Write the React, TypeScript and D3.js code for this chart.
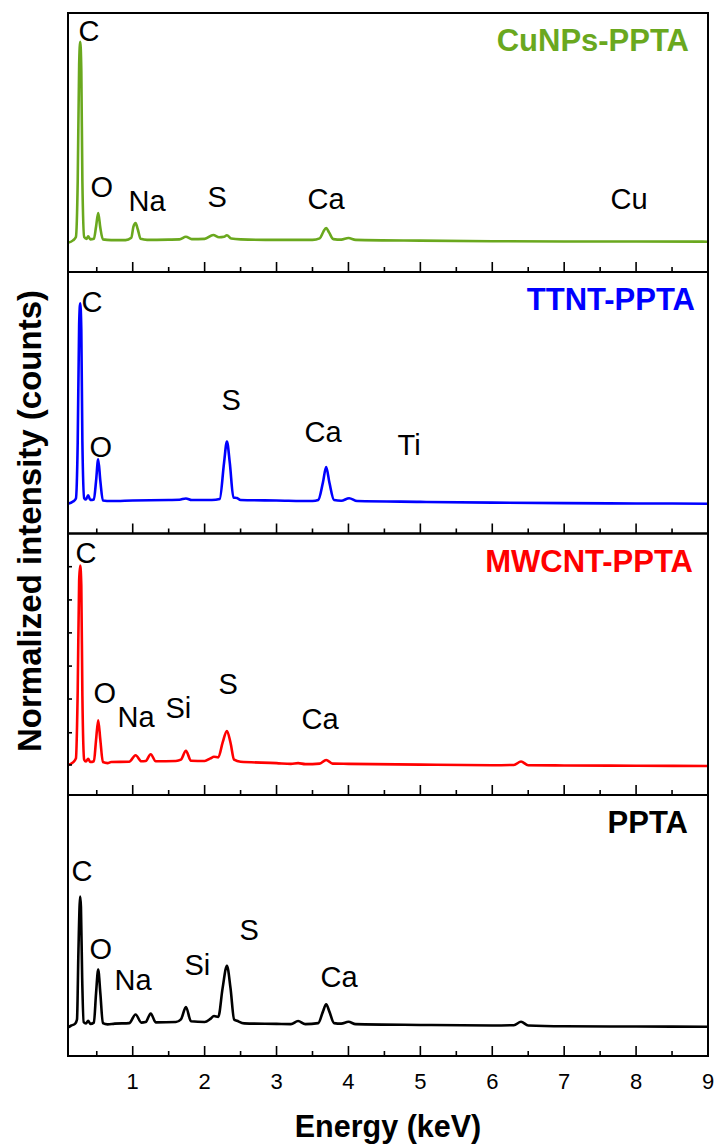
import React from "react";
import * as d3 from "d3";

type Pt = [number, number];

// Spectra: [energy keV, normalized intensity (0-100 within each panel)]
const cunpsSpectrum: Pt[] = [
  [0.10, 11.3], [0.17, 12.2], [0.21, 13.5], [0.235, 35], [0.255, 80], [0.27, 88.9], [0.285, 78], [0.30, 35],
  [0.325, 13.5], [0.36, 12.8], [0.38, 13.8], [0.41, 12.6], [0.46, 12.8], [0.49, 17.5], [0.52, 22.8], [0.55, 17],
  [0.585, 12.6], [0.7, 12.3], [0.9, 12.3], [0.98, 13.2], [1.01, 17.5], [1.04, 18.9], [1.07, 16.5], [1.11, 12.8],
  [1.2, 12.4], [1.5, 12.5], [1.65, 12.6], [1.74, 13.6], [1.82, 12.7], [2.0, 12.8], [2.12, 14.3], [2.2, 13.4],
  [2.27, 13.6], [2.31, 14.2], [2.37, 12.9], [2.5, 12.6], [3.0, 12.4], [3.5, 12.4], [3.6, 13.0], [3.65, 15.5],
  [3.69, 17.0], [3.73, 15.3], [3.79, 12.7], [3.9, 12.5], [4.0, 13.1], [4.1, 12.4], [5.0, 12.1], [6.0, 11.9],
  [7.0, 11.8], [8.0, 11.8], [9.0, 11.7],
];

const ttntSpectrum: Pt[] = [
  [0.10, 11.4], [0.17, 12.2], [0.21, 13.4], [0.235, 35], [0.255, 80], [0.27, 88.0], [0.285, 78], [0.30, 35],
  [0.325, 13.5], [0.35, 13.0], [0.38, 14.6], [0.41, 12.8], [0.46, 13.0], [0.49, 20], [0.52, 28.4], [0.55, 20],
  [0.585, 12.6], [0.7, 12.4], [1.0, 12.6], [1.5, 12.8], [1.65, 12.9], [1.74, 13.4], [1.82, 12.8], [2.1, 12.8],
  [2.21, 13.2], [2.27, 27], [2.31, 35.2], [2.35, 27], [2.40, 13.8], [2.45, 13.6], [2.5, 12.8], [3.0, 12.6],
  [3.5, 12.4], [3.58, 12.8], [3.645, 19.5], [3.69, 25.4], [3.735, 19.5], [3.80, 12.8], [3.9, 12.5], [4.01, 13.5],
  [4.12, 12.4], [5.0, 12.1], [6.0, 11.8], [7.0, 11.6], [8.0, 11.5], [9.0, 11.4],
];

const mwcntSpectrum: Pt[] = [
  [0.10, 11.5], [0.17, 12.5], [0.21, 14], [0.235, 40], [0.255, 82], [0.27, 87.7], [0.285, 80], [0.30, 38],
  [0.325, 13.5], [0.35, 12.8], [0.38, 13.8], [0.41, 12.6], [0.46, 12.9], [0.49, 21], [0.52, 28.6], [0.55, 21],
  [0.585, 12.6], [0.65, 12.2], [0.7, 12.6], [0.95, 12.7], [1.04, 15.2], [1.12, 12.9], [1.18, 13.0], [1.25, 15.6],
  [1.32, 12.9], [1.6, 13.0], [1.67, 13.5], [1.74, 16.9], [1.81, 13.1], [2.0, 13.0], [2.08, 14.0], [2.13, 14.6],
  [2.19, 14.4], [2.25, 20], [2.31, 24.5], [2.36, 20], [2.41, 13.5], [2.5, 12.7], [3.0, 12.2], [3.2, 11.9],
  [3.3, 12.2], [3.4, 11.8], [3.6, 12.0], [3.69, 13.4], [3.78, 12.0], [4.0, 11.9], [5.0, 11.6], [6.0, 11.4],
  [6.3, 11.5], [6.4, 12.8], [6.5, 11.4], [7.0, 11.3], [8.0, 11.2], [9.0, 11.1],
];

const pptaSpectrum: Pt[] = [
  [0.10, 11.0], [0.14, 11.6], [0.2, 12.4], [0.225, 14], [0.245, 40], [0.262, 58], [0.27, 61.1], [0.28, 57],
  [0.297, 30], [0.318, 13.0], [0.35, 12.5], [0.38, 13.5], [0.41, 12.3], [0.46, 12.8], [0.49, 24], [0.52, 33.1],
  [0.55, 24], [0.585, 12.6], [0.65, 12.1], [0.75, 12.4], [0.95, 12.6], [1.04, 15.9], [1.12, 12.8], [1.18, 13.0],
  [1.25, 16.3], [1.32, 12.9], [1.6, 13.0], [1.67, 14.0], [1.74, 18.8], [1.81, 13.3], [2.0, 13.0], [2.08, 14.2],
  [2.13, 15.3], [2.19, 15.0], [2.25, 26], [2.31, 34.6], [2.36, 26], [2.41, 14.0], [2.45, 13.5], [2.55, 12.5],
  [3.0, 12.3], [3.2, 12.2], [3.3, 13.4], [3.4, 12.2], [3.58, 12.6], [3.645, 17], [3.69, 19.8], [3.735, 17],
  [3.80, 12.6], [3.9, 12.4], [4.0, 13.1], [4.1, 12.2], [5.0, 11.9], [6.0, 11.7], [6.3, 11.8], [6.4, 13.1],
  [6.5, 11.7], [7.0, 11.4], [8.0, 11.3], [9.0, 11.2],
];

// Element annotations: [label, energy (left edge), intensity (baseline)]
type Lab = [string, number, number];
const cunpsLabels: Lab[] = [["C", 0.267, 89.2], ["O", 0.434, 29.0], ["Na", 0.962, 23.6], ["S", 2.061, 25.1], ["Ca", 3.451, 24.3], ["Cu", 7.665, 24.3]];
const ttntLabels: Lab[] = [["C", 0.309, 84.7], ["O", 0.42, 29.3], ["S", 2.255, 47.2], ["Ca", 3.41, 35.0], ["Ti", 4.703, 30.0]];
const mwcntLabels: Lab[] = [["C", 0.225, 88.7], ["O", 0.475, 35.2], ["Na", 0.809, 26.0], ["Si", 1.477, 29.4], ["S", 2.214, 38.6], ["Ca", 3.368, 25.2]];
const pptaLabels: Lab[] = [["C", 0.17, 67.0], ["O", 0.42, 37.2], ["Na", 0.768, 25.3], ["Si", 1.741, 31.0], ["S", 2.506, 44.4], ["Ca", 3.632, 26.4]];

const sampleNames = ["CuNPs-PPTA", "TTNT-PPTA", "MWCNT-PPTA", "PPTA"];
const sampleColors = ["#6aa81e", "#0000ff", "#ff0000", "#000000"];
const spectra = [cunpsSpectrum, ttntSpectrum, mwcntSpectrum, pptaSpectrum];
const labelSets = [cunpsLabels, ttntLabels, mwcntLabels, pptaLabels];

const majorTicks = [1, 2, 3, 4, 5, 6, 7, 8, 9];
const minorTicks = [0.5, 1.5, 2.5, 3.5, 4.5, 5.5, 6.5, 7.5, 8.5];
const mwcntYTicks = [87.3, 74.6, 62.0, 49.3, 36.7, 23.8, 11.5];

const W = 716;
const H = 1145;
const left = 68;
const right = 708;
const bounds = [13, 272, 533.5, 795, 1056];
const titleEnds = [689, 695, 693, 688];
const FONT = "'Liberation Sans', Arial, Helvetica, sans-serif";

export default function App() {
  const x = d3.scaleLinear().domain([0.1, 9]).range([left, right]);
  return (
    <svg width={W} height={H} style={{ position: "absolute", left: 0, top: 0, background: "#fff" }} fontFamily={FONT}>
      <rect x={0} y={0} width={W} height={H} fill="#fff" />
      {spectra.map((data, i) => {
        const top = bounds[i];
        const bottom = bounds[i + 1];
        const y = d3.scaleLinear().domain([0, 100]).range([bottom, top]);
        const line = d3
          .line<Pt>()
          .x((d) => x(d[0]))
          .y((d) => y(d[1]))
          .curve(d3.curveMonotoneX);
        return (
          <g key={i}>
            <path d={line(data) || ""} fill="none" stroke={sampleColors[i]} strokeWidth={2.6} strokeLinejoin="round" />
            <rect x={left} y={top} width={right - left} height={bottom - top} fill="none" stroke="#000" strokeWidth={2} />
            {majorTicks.map((t) => (
              <line key={"M" + t} x1={x(t)} x2={x(t)} y1={bottom} y2={bottom - 10} stroke="#000" strokeWidth={1.6} />
            ))}
            {minorTicks.map((t) => (
              <line key={"m" + t} x1={x(t)} x2={x(t)} y1={bottom} y2={bottom - 5} stroke="#000" strokeWidth={1.6} />
            ))}
            {i === 2 &&
              mwcntYTicks.map((t) => (
                <line key={"y" + t} x1={left} x2={left + 4} y1={y(t)} y2={y(t)} stroke="#000" strokeWidth={1.6} />
              ))}
            {labelSets[i].map((l, k) => (
              <text key={k} x={x(l[1]) - 1.5} y={y(l[2])} fontSize={29} fill="#000">
                {l[0]}
              </text>
            ))}
            <text x={titleEnds[i]} y={top + 38} fontSize={31} fontWeight="bold" fill={sampleColors[i]} textAnchor="end">
              {sampleNames[i]}
            </text>
          </g>
        );
      })}
      {majorTicks.map((t) => (
        <text key={"l" + t} x={x(t)} y={1089} fontSize={22} textAnchor="middle" fill="#000">
          {t}
        </text>
      ))}
      <text x={(left + right) / 2} y={1136.5} fontSize={30.5} fontWeight="bold" textAnchor="middle" fill="#000">
        Energy (keV)
      </text>
      <text transform="translate(41,521) rotate(-90)" fontSize={33} fontWeight="bold" textAnchor="middle" fill="#000">
        Normalized intensity (counts)
      </text>
    </svg>
  );
}
